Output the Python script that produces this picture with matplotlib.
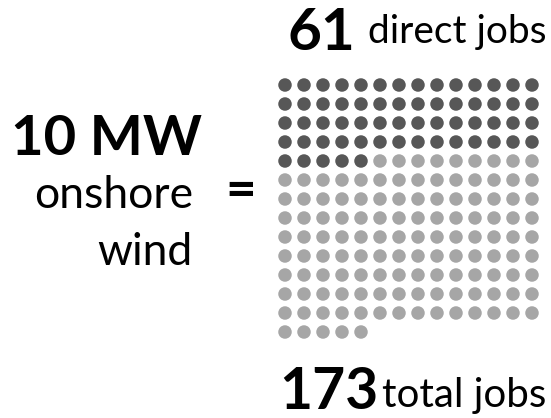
import matplotlib
matplotlib.use("Agg")
import matplotlib.pyplot as plt
import numpy as np

# data
direct_jobs = 61
total_jobs = 173
n_dots = 187          # dots drawn in the grid
n_cols = 14
capacity_label = "10 MW"
tech_label = ["onshore", "wind"]

dark = "#575757"
light = "#a6a6a6"

plt.rcParams['font.family'] = ['Lato', 'DejaVu Sans']

fig = plt.figure(figsize=(5.51, 4.18), dpi=100)
ax = fig.add_axes([0, 0, 1, 1])
ax.set_xlim(0, 551)
ax.set_ylim(418, 0)
ax.axis("off")

# waffle grid
idx = np.arange(n_dots)
col = idx % n_cols
row = idx // n_cols
xs = 285 + col * 19.0
ys = 85 + row * 19.0
colors = [dark if i < direct_jobs else light for i in idx]
ax.scatter(xs, ys, s=(13.5 * 0.72) ** 2, c=colors, linewidths=0)

# labels
ax.text(355, 50, str(direct_jobs), fontsize=42, fontweight="bold", ha="right", va="baseline")
ax.text(368, 43, "direct jobs", fontsize=28, ha="left", va="baseline")

ax.text(378, 409, str(total_jobs), fontsize=41, fontweight="bold", ha="right", va="baseline")
ax.text(382, 407, "total jobs", fontsize=29, ha="left", va="baseline")

ax.text(202, 155, capacity_label, fontsize=40.5, fontweight="bold", ha="right", va="baseline")
ax.text(193, 208, tech_label[0], fontsize=32, ha="right", va="baseline")
ax.text(193, 265, tech_label[1], fontsize=32, ha="right", va="baseline")
ax.text(241, 191, "=", fontsize=38, fontweight="bold", ha="center", va="center")

fig.savefig("out.png", dpi=100)
